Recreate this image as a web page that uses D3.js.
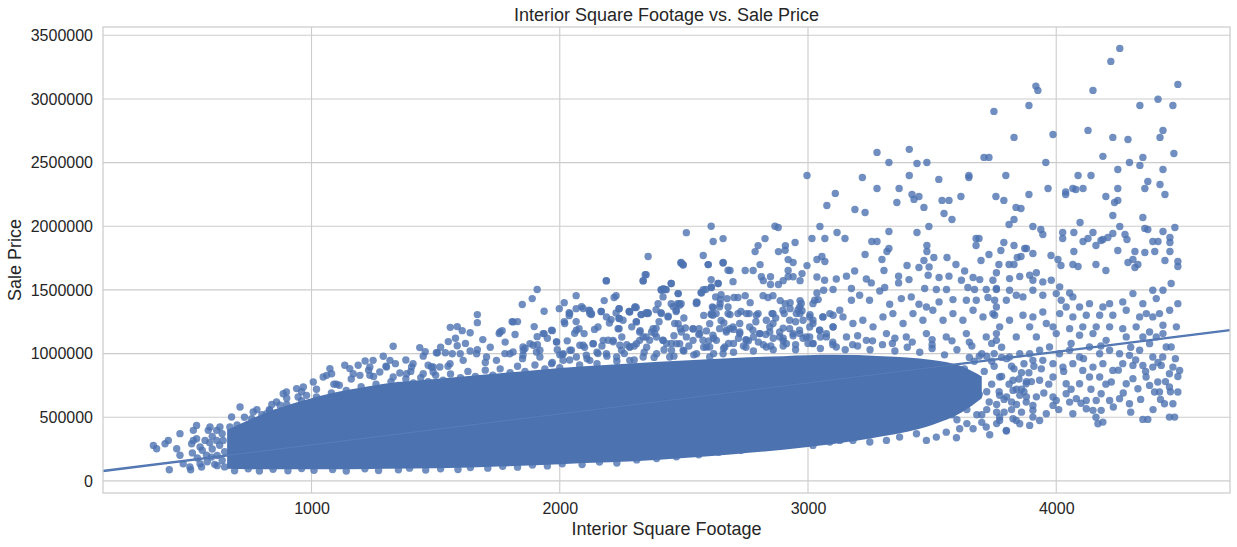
<!DOCTYPE html>
<html>
<head>
<meta charset="utf-8">
<script src="https://cdn.jsdelivr.net/npm/d3@7"></script>
<style>
  html, body { margin: 0; padding: 0; background: #fff; }
  text { font-family: "Liberation Sans", Arial, sans-serif; fill: #262626; }
</style>
</head>
<body>
<svg id="chart" width="1237" height="547"></svg>
<script>
// axis ticks
const sqftTicks = [1000, 2000, 3000, 4000];
const priceTicks = [0, 500000, 1000000, 1500000, 2000000, 2500000, 3000000, 3500000];

// saturated middle of the cloud, read per sqft: [sqft, lowest price, highest price]
const coreBand = [
	[660, 95000, 400000], [750, 92000, 480000], [850, 92000, 560000],
	[1000, 92000, 650000], [1150, 92000, 715000], [1300, 95000, 765000],
	[1500, 100000, 800000], [1700, 110000, 835000], [1900, 122000, 870000],
	[2100, 140000, 900000], [2300, 155000, 925000], [2500, 180000, 945000],
	[2700, 210000, 965000], [2900, 245000, 980000], [3100, 290000, 990000],
	[3300, 350000, 980000], [3500, 440000, 950000], [3620, 540000, 900000],
	[3700, 650000, 820000]
];

// fitted line end points (sqft, price)
const regLine = [[160, 78000], [4700, 1184000]];

// top outliers
const highOutliers = [
	[4256,3397000],[4220,3295000],[4490,3114000],[4148,3067000],[3918,3101000],[3926,3067000],[3890,2949000],[3749,2902000],
	[4410,2997000],[4470,2949000],[4337,2949000],[4128,2753000],[4430,2753000],[4418,2698000],[4228,2698000],[4289,2682000],
	[3830,2698000],[3987,2721000],[4474,2572000],[4188,2549000],[4349,2541000],[3709,2541000],[3729,2541000],[4295,2501000],
	[3958,2501000],[4337,2478000],[4248,2446000],[4430,2446000],[3278,2580000],[3408,2604000],[3326,2501000],[3439,2493000],
	[3479,2501000],[2996,2399000],[3408,2399000],[3648,2399000],[3648,2383000],[3797,2399000],[4140,2399000],[4088,2399000],
	[3219,2383000],[3527,2368000],[4369,2352000],[4418,2328000],[3278,2297000],[3367,2297000],[3967,2297000],[4067,2297000],
	[4079,2289000],[4108,2297000],[4038,2270000],[4038,2250000],[4248,2297000],[4357,2297000],[4438,2250000],[3110,2258000],
	[3419,2250000],[3427,2211000],[3447,2234000],[3616,2234000],[3757,2234000],[3789,2203000],[3890,2250000],[4200,2234000],
	[3076,2163000],[3358,2187000],[3540,2203000],[3568,2203000],[4235,2187000],[4248,2203000],[3189,2132000],[3230,2108000],
	[3467,2148000],[3838,2148000],[3858,2140000],[3548,2100000],[3580,2053000],[4228,2085000],[4349,2069000],[3810,2014000],
	[3830,2053000],[4096,2030000],[3048,1998000],[3487,1998000],[3906,1998000],[3938,1975000],[3946,1935000],[4256,1998000],
	[4228,1943000],[4277,1935000],[4285,1896000],[4357,1983000],[4369,1975000],[4478,1990000],[4430,1959000],[3326,1959000],
	[3439,1951000],[4026,1951000],[4071,1951000],[4148,1951000],[4188,1896000],[4026,1904000],[3016,1904000],[3068,1904000],
	[3117,1951000],[3149,1904000],[3257,1880000],[3278,1880000],[3677,1904000],[3689,1904000],[4108,1880000],[4128,1904000],
	[4160,1849000],[4180,1888000],[4208,1912000],[4389,1880000],[4410,1880000],[4458,1912000],[4458,1872000],[4458,1802000],
	[3789,1872000],[2948,1872000],[3479,1849000],[3479,1802000],[3677,1849000],[3830,1849000],[4071,1802000],[4248,1810000],
	[4317,1802000],[4397,1802000],[3230,1778000],[3318,1802000],[3326,1825000],[3729,1778000],[3777,1810000],[3880,1825000],
	[3906,1786000],[3036,1739000],[3056,1763000],[3068,1723000],[3298,1739000],[3306,1652000],[3399,1692000],[3447,1676000],
	[3467,1731000],[3507,1755000],[3560,1755000],[3596,1700000],[3697,1731000],[3769,1700000],[3810,1700000],[3830,1700000],
	[3858,1763000],[3843,1755000],[3873,1825000],[3979,1770000],[4007,1739000],[4019,1692000],[4067,1700000],[4088,1684000],
	[4160,1700000],[4200,1652000],[4309,1739000],[4329,1700000],[4317,1676000],[4289,1715000],[4357,1794000],[4438,1731000],
	[4490,1723000],[4490,1684000]
];

// scattered points above the band, 3000 - 3800 sqft
const upperRight = [
	[3036,1602000],[3067,1576000],[3114,1586000],[3155,1608000],[3188,1649000],[3235,1586000],[3255,1555000],[3289,1492000],
	[3309,1519000],[3365,1608000],[3365,1555000],[3407,1581000],[3488,1681000],[3484,1615000],[3470,1511000],[3517,1503000],
	[3558,1503000],[3528,1597000],[3568,1608000],[3618,1576000],[3631,1649000],[3665,1597000],[3692,1581000],[3644,1519000],
	[3671,1503000],[3718,1503000],[3745,1576000],[3759,1503000],[3036,1476000],[3063,1497000],[3101,1503000],[3027,1419000],
	[3175,1511000],[3208,1458000],[3248,1419000],[3329,1387000],[3376,1432000],[3416,1445000],[3447,1387000],[3477,1366000],
	[3528,1406000],[3584,1424000],[3638,1419000],[3678,1419000],[3725,1440000],[3752,1419000],[2967,1366000],[3007,1288000],
	[3088,1314000],[3128,1340000],[3175,1419000],[2980,1262000],[3020,1236000],[3060,1288000],[3101,1210000],[3141,1288000],
	[3181,1236000],[3221,1262000],[3262,1210000],[3302,1288000],[3342,1314000],[3383,1236000],[3423,1314000],[3463,1262000],
	[3503,1340000],[3544,1262000],[3584,1314000],[3624,1262000],[3665,1340000],[3705,1288000],[3745,1314000],[3772,1210000],
	[3007,1131000],[3074,1157000],[3155,1131000],[3235,1104000],[3316,1157000],[3396,1131000],[3477,1157000],[3557,1131000],
	[3638,1157000],[3718,1131000],[3759,1104000],[3020,1080000],[3100,1090000],[3180,1070000],[3260,1100000],[3340,1080000],
	[3420,1090000],[3500,1070000],[3580,1100000],[3660,1060000],[3740,1080000]
];

// 3750 - 4500 sqft, between 1.05M and 1.65M
const farRight = [
	[3759,1635000],[3812,1589000],[3853,1605000],[3893,1615000],[3906,1576000],[3920,1635000],[3946,1563000],[3980,1576000],
	[4014,1524000],[4000,1471000],[4054,1476000],[4067,1445000],[4020,1419000],[4040,1366000],[4094,1366000],[4134,1392000],
	[4188,1366000],[4215,1392000],[4268,1406000],[4309,1471000],[4349,1392000],[4389,1497000],[4403,1432000],[4430,1497000],
	[4463,1550000],[4490,1392000],[4363,1314000],[4416,1314000],[4457,1340000],[3759,1511000],[3812,1497000],[3839,1458000],
	[3866,1445000],[3906,1497000],[3946,1458000],[3759,1366000],[3799,1419000],[3866,1301000],[3906,1288000],[3946,1327000],
	[3987,1210000],[4014,1314000],[4067,1288000],[4121,1301000],[4175,1301000],[4228,1301000],[4282,1340000],[4336,1288000],
	[4389,1288000],[4430,1222000],[4484,1210000],[3752,1301000],[3812,1262000],[3893,1210000],[3960,1236000],[4054,1196000],
	[4107,1210000],[4161,1210000],[4215,1210000],[4268,1196000],[4322,1210000],[4376,1170000],[4430,1157000],[3759,1157000],
	[3839,1131000],[3920,1131000],[4000,1157000],[4094,1144000],[4148,1157000],[4201,1104000],[4282,1131000],[4349,1131000],
	[4403,1131000],[4463,1052000]
];

// right hand cluster below 1.1M, and the lower edge from 3000 sqft on
const rightCluster = [
	[3772,672000],[3826,711000],[3853,672000],[3879,619000],[3906,593000],[3933,475000],[3960,528000],[3906,501000],
	[3893,436000],[3853,449000],[3799,397000],[3772,475000],[3826,488000],[3987,593000],[4000,632000],[4040,685000],
	[4054,619000],[4067,528000],[4081,646000],[4121,567000],[4148,554000],[4181,554000],[4188,462000],[4168,449000],
	[4121,632000],[4161,632000],[4181,685000],[4215,632000],[4255,646000],[4295,606000],[4349,483000],[4369,483000],
	[4456,501000],[4477,501000],[4436,606000],[4470,606000],[4490,698000],[4456,737000],[4416,698000],[4396,698000],
	[4376,750000],[4329,724000],[4282,763000],[4222,777000],[4175,816000],[4134,816000],[4094,763000],[4040,763000],
	[3987,816000],[3933,790000],[3879,763000],[3826,790000],[3772,816000],[4309,803000],[4362,816000],[4409,777000],
	[4456,842000],[4497,868000],[4470,894000],[4423,907000],[4389,894000],[4349,907000],[4309,907000],[4268,921000],
	[4228,868000],[4188,921000],[4148,894000],[4107,868000],[4067,921000],[4027,894000],[3987,921000],[3946,947000],
	[3906,947000],[4443,1052000],[4389,973000],[4336,1026000],[4295,986000],[4255,999000],[4215,1026000],[4175,999000],
	[4134,1052000],[4094,973000],[4054,1026000],[4013,999000],[3973,1052000],[3933,1026000],[3893,999000],[3853,999000],
	[3812,973000],[4376,1078000],[4429,973000],
	[3820,560000],[3870,700000],[3890,850000],[3950,690000],[3970,760000],[4010,560000],[4030,860000],[4060,720000],
	[4100,610000],[4110,960000],[4140,720000],[4160,500000],[4200,760000],[4230,580000],[4250,870000],[4270,690000],
	[4300,540000],[4320,950000],[4340,640000],[4360,860000],[4390,560000],[4410,930000],[4420,640000],[4440,780000],
	[4460,700000],[4480,960000],[4490,820000],[4300,1050000],[4180,1060000],[4060,1080000],[3940,880000],[3920,660000],
	[3860,540000],
	[3610,620000],[3630,880000],[3640,560000],[3660,760000],[3670,940000],[3690,680000],[3700,520000],[3710,860000],
	[3720,980000],[3730,620000],[3740,760000],[3750,900000],[3760,540000],[3770,700000],[3780,820000],[3790,640000],
	[3800,960000],[3810,760000],[3830,880000],[3840,600000],[3850,800000],[3870,920000],[3880,660000],[3900,780000],
	[3910,900000],[3620,720000],[3680,800000],[3720,700000],[3650,660000],[3690,980000],[3580,520000],[3560,580000],
	[3600,480000],[3640,450000],[3700,460000],[3760,450000],[3820,620000],[3860,720000],[3750,1000000],[3790,540000],
	[3477,318000],[3517,344000],[3598,339000],[3557,383000],[3665,410000],[3732,363000],[3799,391000],[3839,475000],
	[3437,370000],[3369,344000],[3316,318000],[3249,305000],[3181,318000],[3128,318000],[3020,279000],[3088,305000],
	[3611,410000],[3718,423000],[3772,501000],[3906,554000],[3987,659000]
];

// 1500 - 3050 sqft above the band
const middleHalo = [
	[2610,2000000],[2510,1950000],[2618,1880000],[2658,1903000],[2867,2000000],[2880,1990000],[2356,1762000],[2827,1903000],
	[2799,1848000],[2787,1801000],[2881,1801000],[2909,1848000],[2908,1812000],[2996,1691000],[2489,1715000],[2497,1699000],
	[2578,1770000],[2598,1699000],[2658,1715000],[2807,1699000],[2920,1738000],[2940,1715000],[2344,1620000],[2336,1573000],
	[2187,1573000],[2686,1652000],[2747,1652000],[2779,1652000],[2698,1565000],[2610,1581000],[2638,1550000],[2812,1604000],
	[2849,1604000],[2820,1573000],[2849,1542000],[2881,1542000],[2900,1573000],[2920,1652000],[2920,1604000],[2940,1604000],
	[2976,1628000],[2968,1573000],[2449,1550000],[2417,1510000],[2429,1502000],[2408,1502000],[2578,1502000],[2610,1518000],
	[2569,1479000],[2477,1471000],[2179,1416000],[2219,1440000],[2227,1455000],[2302,1361000],[2348,1321000],[2356,1314000],
	[2396,1392000],[2388,1345000],[2457,1369000],[2481,1392000],[2489,1392000],[2469,1330000],[2088,1369000],[2121,1337000],
	[2128,1314000],[2167,1330000],[2207,1267000],[2239,1353000],[2227,1319000],[2239,1275000],[2280,1330000],[2304,1369000],
	[2328,1306000],[2553,1400000],[2618,1361000],[2650,1463000],[2646,1392000],[2674,1432000],[2702,1440000],[2718,1440000],
	[2747,1455000],[2767,1400000],[2819,1455000],[2839,1440000],[2859,1455000],[2888,1416000],[2908,1392000],[2928,1400000],
	[2968,1416000],[2976,1337000],[2610,1306000],[2630,1314000],[2686,1306000],[2718,1314000],[2763,1314000],[2799,1314000],
	[2855,1314000],[2904,1314000],[2928,1353000],[2960,1345000],[2968,1314000],[3008,1306000],[3020,1392000],[3041,1424000],
	[2685,1196000],[2725,1170000],[2765,1209000],[2806,1157000],[2846,1209000],[2886,1170000],[2926,1196000],[2967,1157000],
	[3007,1209000],[3047,1183000],
	[2488,1712000],[2497,1696000],[2598,1699000],[2658,1712000],[1909,1503000],[2188,1571000],[2336,1571000],[2348,1620000],
	[2449,1550000],[2410,1497000],[2425,1503000],[2416,1445000],[2477,1471000],[2571,1476000],[2588,1503000],[2611,1523000],
	[2638,1550000],[2678,1654000],[1849,1385000],[1889,1432000],[1937,1332000],[1998,1353000],[2018,1400000],[2066,1455000],
	[1668,1306000],[1668,1243000],[1808,1251000],[1830,1251000],[1756,1157000],[1768,1180000],[1897,1212000],[1937,1157000],
	[1970,1180000],[1909,1133000],[1559,1206000],[1587,1212000],[1607,1180000],[1639,1164000],[1551,1094000],[1587,1062000],
	[1507,1007000],[1539,1007000],[1567,999000],[1599,999000],[1639,1020000],[1668,1031000],[2018,1251000],[2038,1322000],
	[2038,1298000],[2066,1353000],[2066,1251000],[2078,1196000],[2098,1157000],[2118,1340000],[2127,1306000],[2167,1330000],
	[2239,1353000],[2239,1275000],[2239,1196000],[2280,1330000],[2308,1361000],[2328,1306000],[2356,1322000],[2348,1130000],
	[2324,1180000],[2308,1251000],[2388,1198000],[2390,1130000],[2408,1322000],[2437,1293000],[2449,1392000],[2475,1392000],
	[2469,1340000],[2477,1235000],[2486,1196000],[2506,1201000],[2537,1193000],[2551,1406000],[2561,1196000],[2591,1178000],
	[2604,1235000],[2611,1314000],[2615,1366000],[2628,1445000],[2647,1424000],[2661,1240000],[2671,1183000],[2678,1366000],
	[2175,1104000],[2215,1104000],[2249,1026000],[2282,1052000],[2322,1104000],[2416,1104000],[2470,1078000],[2537,1104000],
	[2591,1052000],[2631,1104000],[2665,1052000],[2011,992000],[2041,1026000],[2094,1065000],[2135,1078000],[2188,999000],
	[1987,1091000],[1880,1078000],[1920,973000],[1853,1026000],[1799,999000],[1745,947000],[1705,973000],[1665,999000],
	[1611,947000],[1558,921000],[1517,895000],[1490,895000],[2014,947000],[2067,973000],[2121,947000],[2229,973000],
	[2282,947000],[2336,973000],[2390,999000],[2443,973000],[2497,1026000],[2551,999000],[2604,973000],[2658,999000],
	[2700,1080000],[2750,1050000],[2800,1090000],[2850,1060000],[2900,1100000],[2950,1070000],[2720,1120000],[2780,1130000],
	[2860,1120000],[2940,1140000],
	[1520,1050000],[1580,1120000],[1620,1080000],[1690,1110000],[1720,1050000],[1780,1090000],[1820,1150000],[1860,1040000],
	[1910,1070000],[1950,1120000],[1990,1030000],[2030,1100000],[2060,1160000],[2100,1050000],[2140,1190000],[2170,1060000],
	[2200,1240000],[2250,1130000],[2270,1070000],[2290,1210000],[2350,1050000],[2370,1170000],[2400,1250000],[2430,1080000],
	[2460,1140000],[2500,1280000],[2520,1060000],[2560,1150000],[2580,1300000],[2620,1120000],[2650,1260000],[2680,1080000],
	[2700,1190000],[2730,1330000],[2760,1100000],[2790,1250000],[2830,1150000],[2870,1280000],[2900,1200000],[2950,1250000],
	[2980,1120000]
];

// the crowded strip just above the band, 1750 - 3100 sqft
const nearBand = [
	[1779,1000000],[1812,1013000],[1852,987000],[1893,1065000],[1906,1013000],[1920,1026000],[1967,921000],[2014,1000000],
	[2047,1026000],[2081,1065000],[2107,987000],[2134,1078000],[2154,1000000],[2195,1105000],[2215,1092000],[2242,1065000],
	[2282,1052000],[2309,1078000],[2336,1131000],[2362,1105000],[2383,1157000],[2416,1105000],[2450,1026000],[2483,1078000],
	[2490,1170000],[2510,1131000],[2537,1196000],[2564,1157000],[2577,1105000],[2604,1052000],[2617,1144000],[2644,1196000],
	[2671,1170000],[2698,1209000],[2725,1157000],[2752,1105000],[2778,1183000],[2805,1157000],[2832,1052000],[2846,1170000],
	[2859,1236000],[2886,1131000],[2913,1078000],[2940,1157000],[2966,1183000],[2993,1131000],[3020,1078000],[3047,1183000],
	[3074,1131000],[3101,1209000],[3114,1052000],
	[1759,1170000],[1812,1249000],[1852,1052000],[1933,1157000],[1967,1183000],[1987,1092000],[2020,1236000],[2040,1314000],
	[2067,1183000],[2094,1354000],[2121,1314000],[2154,1209000],[2188,1288000],[2235,1196000],[2255,1262000],[2282,1327000],
	[2309,1249000],[2322,1170000],[2349,1314000],[2376,1196000],[2409,1314000],[2436,1288000],[2463,1236000],[2483,1380000],
	[2550,1393000],[2617,1301000],[2644,1367000],[2678,1314000],[2725,1236000],[2752,1314000],[2792,1301000],[2832,1262000],
	[2859,1314000],[2899,1340000],[2926,1262000],[2953,1314000],[2973,1393000],[3020,1262000],[3060,1288000],[3101,1301000]
];

// ragged top of the dense band
const bandEdge = [
	[700,440000],[730,500000],[770,470000],[800,520000],[830,560000],[860,530000],[900,600000],[930,570000],
	[960,630000],[990,600000],[1020,660000],[1050,640000],[1080,690000],[1110,660000],[1140,710000],[1170,690000],
	[1200,740000],[1230,700000],[1260,760000],[1290,730000],[1320,780000],[1350,750000],[1380,800000],[1410,770000],
	[1440,810000],[1470,780000],[1500,830000],[1530,790000],[1560,840000],[1600,810000],[1630,860000],[1660,820000],
	[1700,870000],[1730,830000],[1760,880000],[1800,850000],[1830,900000],[1860,860000],[1900,910000],[1940,880000],
	[1970,930000],[2000,890000],[2040,950000],[2080,910000],[2110,960000],[2150,920000],[2190,980000],[2230,940000],
	[2260,1000000],[2300,950000],[2340,1010000],[2380,970000],[2420,1030000],[2460,980000],[2500,1020000],[2540,990000],
	[2580,1050000],[2620,1000000],[2660,1040000],[2700,1010000],[2740,1060000],[2780,1020000],[2820,1070000],[2860,1030000],
	[2900,1060000],[2950,1030000],[3000,1080000],[3050,1040000],[3100,1070000],[3150,1030000],[3200,1060000],[3250,1030000],
	[3300,1070000],[3350,1020000],[3400,1050000],[3450,1010000],[3500,1040000],[3550,990000],[3600,1030000],[3650,970000],
	[3700,1000000],[3740,940000],[3780,970000],[3820,900000],[3860,850000],[3880,780000],[3840,720000],[3800,660000],
	[3760,600000],[3720,560000],[3680,520000],
	[1100,760000],[1250,820000],[1400,860000],[1550,900000],[1700,930000],[1850,960000],[2000,990000],[2150,1010000],
	[2300,1060000],[2450,1080000],[2600,1100000],[2750,1110000],[2900,1120000],[3050,1130000],[3200,1140000],[3350,1120000],
	[3500,1110000],[3650,1090000],[3780,1050000],
	[1450,980000],[1380,950000],[1300,900000],[1230,870000],[1160,800000],[1090,760000],[1020,720000],[960,700000],
	[900,650000],[840,600000],[780,560000]
];

// small homes, left of 1500 sqft
const leftHalo = [
	[1329,1057000],[1436,1047000],[1458,1015000],[1503,1007000],[1289,979000],[1316,947000],[1338,921000],[1302,895000],
	[1248,947000],[1216,942000],[1235,895000],[1188,908000],[1134,908000],[1154,882000],[1074,882000],[1047,816000],
	[1061,829000],[1081,842000],[1112,751000],[1168,842000],[1195,829000],[1235,829000],[1275,855000],[1329,816000],
	[1356,848000],[1383,842000],[1409,921000],[1403,895000],[1470,908000],[1483,895000],[1450,842000],[1490,855000],
	[1007,777000],[967,738000],[940,725000],[980,672000],[946,659000],[899,698000],[886,685000],[859,620000],
	[873,594000],[832,554000],[819,528000],[765,541000],[759,489000],[712,580000],[678,502000],[671,423000],
	[631,423000],[618,397000],[584,397000],[591,423000],[537,436000],[524,397000],[537,331000],[517,292000],
	[524,318000],[551,266000],[571,318000],[470,371000],[423,318000],[410,292000],[363,279000],[376,253000],
	[457,253000],[470,201000],[483,135000],[510,109000],[551,135000],[557,109000],[427,88000],[513,88000],
	[577,201000],[597,187000],[618,318000],[644,318000],[600,250000],[620,200000],[640,160000],[610,130000],
	[650,110000],[580,150000],[560,240000],[600,350000],[630,280000],[650,230000],[540,180000],[520,220000],
	[640,370000],[590,300000],[620,120000]
];

// cheapest sales along the bottom of the cloud
const bottomEdge = [
	[690,80000],[745,95000],[790,78000],[845,92000],[905,80000],[960,97000],[1010,83000],[1085,90000],[1140,78000],
	[1215,95000],[1270,82000],[1350,88000],[1395,100000],[1460,85000],[1520,95000],[1590,90000],[1640,105000],[1710,100000],
	[1770,115000],[1830,108000],[1890,125000],[1950,118000],[2010,135000],[2090,128000],[2160,148000],[2230,140000],
	[2310,165000],[2390,175000],[2470,190000],[2560,205000],[2640,225000],[2730,240000],[2830,265000],[2930,285000]
];

const sales = [].concat(highOutliers, upperRight, farRight, rightCluster, middleHalo, nearBand, bandEdge, leftHalo, bottomEdge);

const margin = {top: 27, right: 7, bottom: 54, left: 103},
	width = 1237, height = 547;
const blue = "#4c72b0", grid = "#cccccc";

const svg = d3.select("#chart");

const x = d3.scaleLinear()
	.domain([160, 4700])
	.range([margin.left, width - margin.right]);
const y = d3.scaleLinear()
	.domain([-95000, 3565000])
	.range([height - margin.bottom, margin.top]);

// grid lines
svg.append("g")
	.selectAll("line")
	.data(sqftTicks)
	.join("line")
	.attr("x1", d => x(d)).attr("x2", d => x(d))
	.attr("y1", margin.top).attr("y2", height - margin.bottom)
	.attr("stroke", grid).attr("stroke-width", 1.1);
svg.append("g")
	.selectAll("line")
	.data(priceTicks)
	.join("line")
	.attr("x1", margin.left).attr("x2", width - margin.right)
	.attr("y1", d => y(d)).attr("y2", d => y(d))
	.attr("stroke", grid).attr("stroke-width", 1.1);

// dense middle of the cloud
const core = d3.area()
	.x(d => x(d[0]))
	.y0(d => y(d[1]))
	.y1(d => y(d[2]))
	.curve(d3.curveMonotoneX);
svg.append("path")
	.datum(coreBand)
	.attr("fill", blue)
	.attr("d", core);

// points
svg.append("g")
	.selectAll("circle")
	.data(sales)
	.join("circle")
	.attr("cx", d => x(d[0]))
	.attr("cy", d => y(d[1]))
	.attr("r", 3.7)
	.attr("fill", blue)
	.attr("fill-opacity", 0.8);

// regression line
const line = d3.line().x(d => x(d[0])).y(d => y(d[1]));
svg.append("path")
	.datum(regLine)
	.attr("fill", "none")
	.attr("stroke", blue)
	.attr("stroke-width", 2.4)
	.attr("d", line);
svg.append("path")
	.datum(regLine)
	.attr("fill", "none")
	.attr("stroke", "#ffffff")
	.attr("stroke-opacity", 0.08)
	.attr("stroke-width", 1)
	.attr("d", line);

// frame
svg.append("rect")
	.attr("x", margin.left).attr("y", margin.top)
	.attr("width", width - margin.right - margin.left)
	.attr("height", height - margin.bottom - margin.top)
	.attr("fill", "none")
	.attr("stroke", grid)
	.attr("stroke-width", 1.25);

// axes
const xAxis = svg.append("g")
	.attr("transform", `translate(0,${height - margin.bottom})`)
	.call(d3.axisBottom(x).tickValues(sqftTicks).tickSize(0).tickPadding(10).tickFormat(d3.format("d")));
const yAxis = svg.append("g")
	.attr("transform", `translate(${margin.left},0)`)
	.call(d3.axisLeft(y).tickValues(priceTicks).tickSize(0).tickPadding(10).tickFormat(d3.format("d")));
[xAxis, yAxis].forEach(g => {
	g.select(".domain").remove();
	g.selectAll("text")
		.attr("font-family", "'Liberation Sans', Arial, sans-serif")
		.attr("font-size", 16)
		.attr("fill", "#262626");
});

svg.append("text")
	.attr("x", (margin.left + width - margin.right) / 2)
	.attr("y", 21)
	.attr("text-anchor", "middle")
	.attr("font-size", 18)
	.text("Interior Square Footage vs. Sale Price");

svg.append("text")
	.attr("x", (margin.left + width - margin.right) / 2)
	.attr("y", 535)
	.attr("text-anchor", "middle")
	.attr("font-size", 18)
	.text("Interior Square Footage");

svg.append("text")
	.attr("transform", `translate(20.5,${(margin.top + height - margin.bottom) / 2}) rotate(-90)`)
	.attr("text-anchor", "middle")
	.attr("font-size", 18)
	.text("Sale Price");
</script>
</body>
</html>
